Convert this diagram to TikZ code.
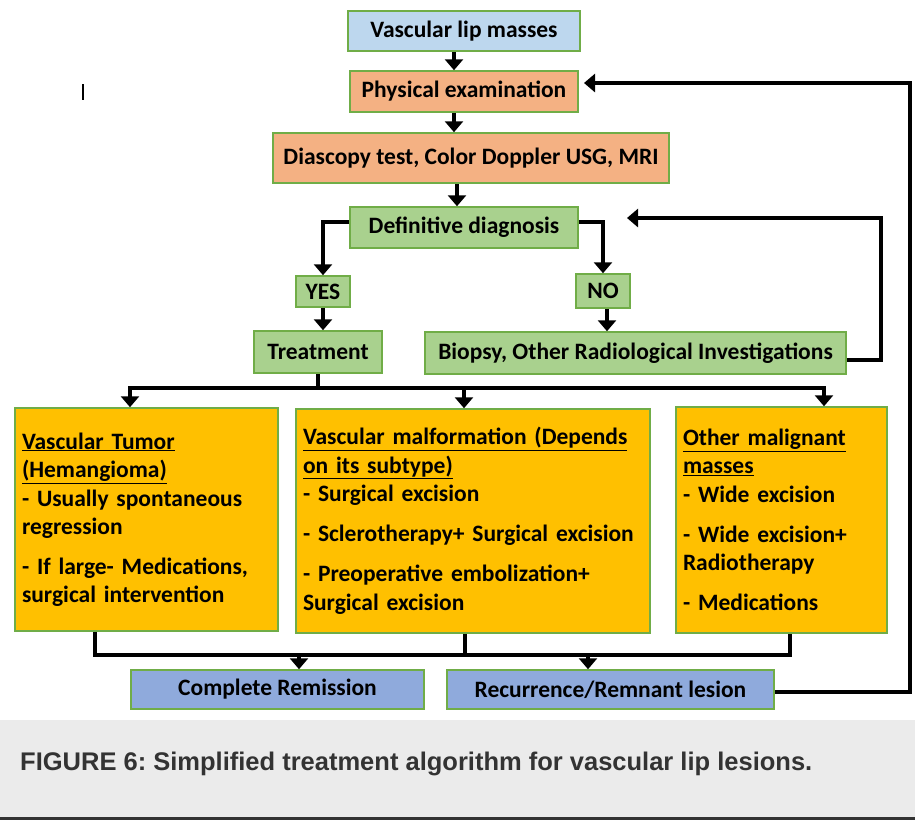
\documentclass[tikz,border=0pt]{standalone}
\usepackage{fontspec}
\setmainfont{Carlito}
\newfontfamily\capfont{Liberation Sans}
\usepackage{xcolor}
\usetikzlibrary{positioning,calc,arrows.meta}

\definecolor{lipblue}{HTML}{BDD7EE}
\definecolor{examorange}{HTML}{F4B183}
\definecolor{diaggreen}{HTML}{A9D18E}
\definecolor{optyellow}{HTML}{FFC000}
\definecolor{outblue}{HTML}{8FAADC}
\definecolor{edgegreen}{HTML}{70AD47}
\definecolor{capbg}{HTML}{EBEBEB}
\definecolor{capgray}{HTML}{333333}

\newcommand{\boxfont}{\fontsize{23.5}{28.5}\selectfont\bfseries}
\frenchspacing

\begin{document}
\begin{tikzpicture}[x=1pt,y=-1pt,
    box/.style={draw=edgegreen,line width=1.5pt,inner sep=0pt,font=\boxfont},
    optbox/.style={box,fill=optyellow,align=left,inner xsep=7pt},
    line/.style={line width=4.5pt},
    arr/.style={line width=4.5pt,-{Triangle[width=18pt,length=11pt]}}]
    \useasboundingbox (0,0) rectangle (915,820);
    % Caption band
    \fill[capbg] (0,720) rectangle (915,817);
    \fill[capgray] (0,817) rectangle (915,820);
    \node[anchor=base west,font=\capfont\fontsize{25.5}{30}\selectfont\bfseries,text=capgray,inner sep=0pt] (caption) at (20,770) {FIGURE 6: Simplified treatment algorithm for vascular lip lesions.};
    % Stray mark
    \draw[line width=1.2pt] (83,84) -- (83,100);
    % Work-up
    \node[box,fill=lipblue,minimum width=232pt,minimum height=40pt] (lip) at (464,31) {Vascular lip masses};
    \node[box,fill=examorange,minimum width=228pt,minimum height=41pt] (phys) at (464,91.5) {Physical examination};
    \node[box,fill=examorange,minimum width=396pt,minimum height=50pt] (diasc) at (471,158) {Diascopy test, Color Doppler USG, MRI};
    \node[box,fill=diaggreen,minimum width=228pt,minimum height=41pt] (defd) at (464,227.5) {Definitive diagnosis};
    \node[box,fill=diaggreen,minimum width=54pt,minimum height=31pt] (yes) at (323,291.5) {YES};
    \node[box,fill=diaggreen,minimum width=54pt,minimum height=34pt] (no) at (603,291) {NO};
    \node[box,fill=diaggreen,minimum width=128pt,minimum height=42pt] (treat) at (318,352) {Treatment};
    \node[box,fill=diaggreen,minimum width=421pt,minimum height=42pt] (biopsy) at (635.5,353) {Biopsy, Other Radiological Investigations};
    % Options
    \node[optbox,minimum width=263pt,minimum height=223pt,text width=249pt] (tumor) at (146.5,519.5)
        {\underline{Vascular Tumor}\\\underline{(Hemangioma)}\\- Usually spontaneous\\regression\\[11pt]- If large- Medications,\\surgical intervention};
    \node[optbox,minimum width=354pt,minimum height=224pt,text width=340pt] (malf) at (473,521)
        {\underline{Vascular malformation (Depends}\\\underline{on its subtype)}\\- Surgical excision\\[11.5pt]- Sclerotherapy+ Surgical excision\\[11.5pt]- Preoperative embolization+\\Surgical excision};
    \node[optbox,minimum width=211pt,minimum height=226pt,text width=197pt] (malig) at (781.5,520)
        {\underline{Other malignant}\\\underline{masses}\\- Wide excision\\[11.5pt]- Wide excision+\\Radiotherapy\\[11.5pt]- Medications};
    % Outcomes
    \node[box,fill=outblue,minimum width=293pt,minimum height=39pt] (remis) at (277.5,689.5) {Complete Remission};
    \node[box,fill=outblue,minimum width=327pt,minimum height=39pt] (recur) at (610.5,689.5) {Recurrence/Remnant lesion};
    % Arrows down the work-up
    \draw[arr] ([xshift=-10pt]lip.south) -- ([xshift=-10pt]phys.north);
    \draw[arr] ([xshift=-10pt]phys.south) -- ([xshift=-10pt]phys.south |- diasc.north);
    \draw[arr] ([xshift=-14pt]diasc.south) -- ([xshift=-14pt]diasc.south |- defd.north);
    \draw[arr] ([yshift=5.5pt]defd.west) -| (yes.north);
    \draw[arr] ([yshift=5.5pt]defd.east) -| (no.north);
    \draw[arr] (yes.south) -- (yes.south |- treat.north);
    \draw[arr] ([xshift=4pt]no.south) -- ([xshift=4pt]no.south |- biopsy.north);
    % Feedback loops
    \coordinate (fbdiag) at (627,218);
    \coordinate (fbphys) at (584,83);
    \draw[arr] ([yshift=-7pt]biopsy.east) -| (881,218) -- (fbdiag);
    \draw[arr] ([yshift=-2.5pt]recur.east) -| (910,83) -- (fbphys);
    % Split to options
    \coordinate (split) at (318,388);
    \draw[line] (treat.south) -- (split);
    \draw[arr] (split) -| ([xshift=-16.5pt]tumor.north);
    \draw[arr] (split) -| ([xshift=42.5pt]malig.north);
    \draw[arr] ([xshift=-9pt]malf.north |- split) -- ([xshift=-9pt]malf.north);
    % Merge to outcomes
    \coordinate (merge) at (465,655);
    \draw[line] ([xshift=-51.5pt]tumor.south) |- (merge) -| ([xshift=8.5pt]malig.south);
    \draw[line] ([xshift=-8pt]malf.south) -- (merge);
    \draw[arr] ([xshift=21.5pt]remis.north |- merge) -- ([xshift=21.5pt]remis.north);
    \draw[arr] ([xshift=-22.5pt]recur.north |- merge) -- ([xshift=-22.5pt]recur.north);
\end{tikzpicture}
\end{document}
